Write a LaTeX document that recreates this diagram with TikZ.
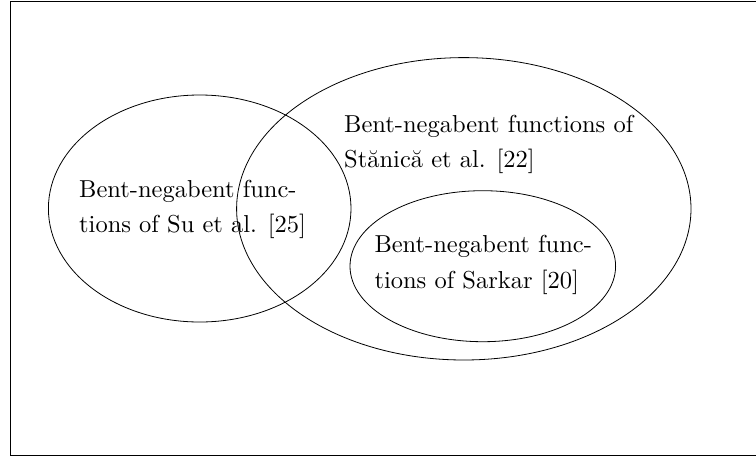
\documentclass[tikz,border=0pt]{standalone}
\usepackage{fontspec}
\newfontfamily\lmten{lmroman10-regular.otf}
\begin{document}
\begin{tikzpicture}[x=1pt,y=-1pt,
    blob/.style={line width=0.8pt},
    lbl/.style={anchor=base west,inner sep=0pt,align=left,
        font=\lmten\fontsize{24.5}{35.4}\selectfont}]
    \useasboundingbox (0,0) rectangle (756,456);
    \draw (760,1)--(10.5,1)--(10.5,455)--(760,455) [line width=1pt];
    \draw (199.7,208.5) ellipse (151.3 and 113.5) [blob];
    \draw (463.8,208.8) ellipse (227.2 and 151.2) [blob];
    \draw (482.8,266.2) ellipse (132.8 and 75.5) [blob];
    \node[lbl] (su) at (79,232.7) {Bent-negabent func-\\tions of Su et al. [25]};
    \node[lbl] (stanica) at (344,167.7) {Bent-negabent functions of\\Stănică et al. [22]};
    \node[lbl] (sarkar) at (374.3,288.3) {Bent-negabent func-\\tions of Sarkar [20]};
\end{tikzpicture}
\end{document}
